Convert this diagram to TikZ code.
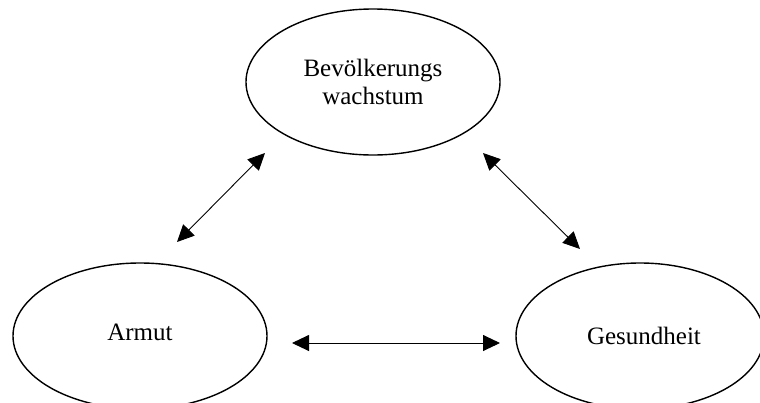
\documentclass[tikz,border=0pt]{standalone}
\usepackage{fontspec}
\setmainfont{Liberation Serif}
\usetikzlibrary{shapes.geometric,arrows.meta}
\begin{document}
\begin{tikzpicture}[x=1pt,y=-1pt,
  oval/.style={draw, ellipse, line width=1.4pt, minimum width=254pt, minimum height=146pt, inner sep=0pt, align=center, font=\fontsize{25}{28}\selectfont},
  link/.style={line width=0.9pt, {Triangle[length=17pt,width=16pt]}-{Triangle[length=17pt,width=16pt]}}]
\useasboundingbox (0,0) rectangle (760,402);
\node[oval] (bev) at (373,82) {Bevölkerungs\\wachstum};
\node[oval] (arm) at (140,336) {\raisebox{7pt}{Armut}};
\node[oval, minimum width=248pt] (ges) at (640,336) {\hspace*{8pt}Gesundheit};
\coordinate (a1) at (177,242);
\coordinate (a2) at (265,153);
\coordinate (b1) at (483,153);
\coordinate (b2) at (580,249);
\coordinate (c1) at (292,343);
\coordinate (c2) at (500,343);
\draw[link] (a1) -- (a2);
\draw[link] (b1) -- (b2);
\draw[link] (c1) -- (c2);
\end{tikzpicture}
\end{document}
